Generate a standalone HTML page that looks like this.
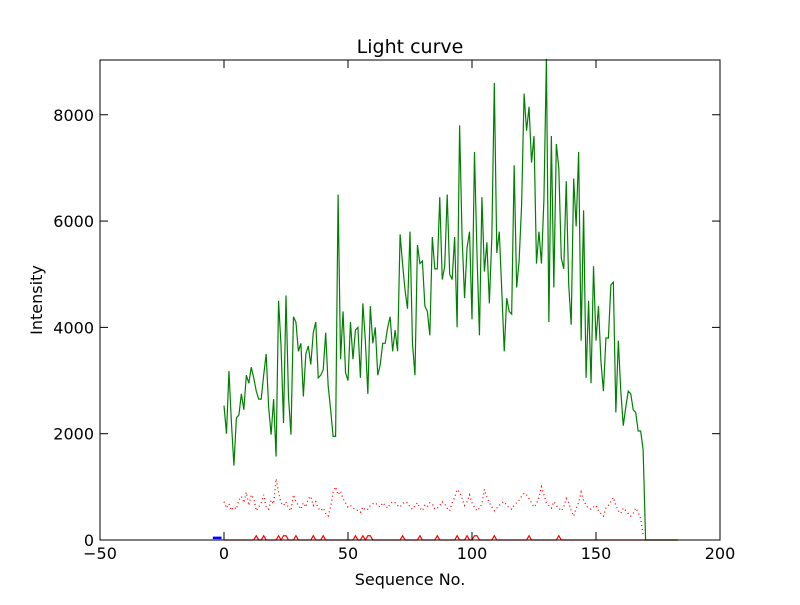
<!DOCTYPE html>
<html><head><meta charset="utf-8"><style>
body{margin:0;background:#fff;}
svg text{font-family:"DejaVu Sans","Liberation Sans",sans-serif;}
</style></head><body>
<svg id="chart" width="800" height="600" xmlns="http://www.w3.org/2000/svg">
<rect width="800" height="600" fill="#fff"/>
<g id="marks"></g>
<g id="axes"></g>
</svg>
<script>
const green=[2530,2000,3180,2200,1400,2300,2350,2750,2450,3100,2950,3250,3050,2800,2650,2650,3100,3500,2500,1980,2650,1570,4500,3650,2200,4600,2700,1980,4200,4100,3550,3700,2700,3500,3650,3300,3900,4100,3050,3100,3200,3900,2900,2450,1950,1950,6500,3400,4300,3150,3000,4100,3400,3950,4000,3050,4450,3750,2750,4400,3700,4000,3100,3300,3700,3700,4000,4200,3550,3950,3550,5750,5200,4700,4350,5800,3700,3100,5550,5200,5250,4400,4300,3850,5700,5100,5100,6450,4900,5150,6500,5000,4900,5700,4000,7800,5700,4550,5500,5800,4150,7300,5400,3850,6450,5050,5600,4450,5700,8600,5400,5800,4700,3550,4550,4300,4250,7050,4750,5250,6300,8400,7700,8150,7100,7600,5200,5800,5200,6400,9050,4100,7600,4750,7450,7000,5300,5100,6750,4800,4050,6800,5900,7300,3750,6200,3050,4500,2950,5150,3750,4400,3350,2800,3800,3800,4800,4850,2400,3750,2800,2150,2500,2800,2750,2450,2400,2050,2050,1700,0,0,0,0,0,0,0,0,0,0,0,0,0,0];
const reddot=[720,600,680,560,620,580,750,820,700,900,650,850,780,550,620,700,850,620,580,750,680,1150,900,700,650,720,600,550,850,720,650,580,700,620,780,820,650,720,600,550,600,500,450,620,900,1000,850,920,780,700,620,650,600,580,550,520,620,560,580,650,680,700,650,620,700,650,600,680,720,700,650,620,680,720,700,620,580,650,700,600,550,650,620,700,680,580,600,650,720,680,600,550,700,800,950,900,780,650,720,850,700,620,550,600,680,950,800,700,620,550,600,650,700,720,650,600,580,650,700,750,820,880,850,780,700,620,680,800,1000,850,700,650,600,720,650,600,550,620,780,700,550,450,600,700,900,750,650,600,580,620,650,550,500,450,600,650,720,800,650,550,500,600,550,500,450,500,600,520,400,100];
const redSpikeIdx=[13,16,22,24,25,29,36,40,53,56,58,59,72,79,86,94,98,101,102,109,123,135];
const blueX=[-4.5,-1];
const blueY=[40,40];
const xTicks=[-50,0,50,100,150,200];
const yTicks=[0,2000,4000,6000,8000];
const X0=100,X1=720,Y0=540,Y1=60,XMIN=-50,XMAX=200,YMAX=9030;
const sx=v=>X0+(v-XMIN)*(X1-X0)/(XMAX-XMIN);
const sy=v=>Y0-v*(Y0-Y1)/YMAX;
const NS="http://www.w3.org/2000/svg";
const marks=document.getElementById('marks'),axes=document.getElementById('axes');
function mk(tag,attrs,parent){const e=document.createElementNS(NS,tag);for(const k in attrs)e.setAttribute(k,attrs[k]);parent.appendChild(e);return e;}
const redVals=[];for(let i=0;i<184;i++)redVals.push(redSpikeIdx.includes(i)?80:0);
let p=mk('polyline',{points:redVals.map((v,i)=>sx(i)+','+sy(v)).join(' '),fill:'none',stroke:'#ff0000','stroke-width':1.2},marks);


p=mk('polyline',{points:reddot.map((v,i)=>sx(i)+','+sy(v)).join(' '),fill:'none',stroke:'#ff0000','stroke-width':1.3,'stroke-dasharray':'1,3'},marks);


p=mk('polyline',{points:green.map((v,i)=>sx(i)+','+sy(v)).join(' '),fill:'none',stroke:'#008000','stroke-width':1.2},marks);


p=mk('polyline',{points:blueX.map((v,i)=>sx(v)+','+sy(blueY[i])).join(' '),fill:'none',stroke:'#0000ff','stroke-width':2.5},marks);


let f=mk('rect',{x:X0,y:Y1,width:X1-X0,height:Y0-Y1,fill:'none',stroke:'#000','stroke-width':1},axes);


const lab=v=>v<0?'\u2212'+(-v):String(v);
xTicks.forEach(t=>{const x=sx(t);
 mk('line',{x1:x,y1:Y0,x2:x,y2:Y0-8,stroke:'#000'},axes);
 mk('line',{x1:x,y1:Y1,x2:x,y2:Y1+8,stroke:'#000'},axes);
 const tx=mk('text',{x:x,y:Y0+19,'font-size':16,'text-anchor':'middle'},axes);tx.textContent=lab(t);
 
 
});
yTicks.forEach(t=>{const y=sy(t);
 mk('line',{x1:X0,y1:y,x2:X0+8,y2:y,stroke:'#000'},axes);
 mk('line',{x1:X1,y1:y,x2:X1-8,y2:y,stroke:'#000'},axes);
 const tx=mk('text',{x:X0-6,y:y+6,'font-size':16,'text-anchor':'end'},axes);tx.textContent=lab(t);
 
 
});
let t=mk('text',{x:410,y:53,'font-size':19,'text-anchor':'middle'},axes);t.textContent='Light curve';


t=mk('text',{x:410,y:585,'font-size':16,'text-anchor':'middle'},axes);t.textContent='Sequence No.';


t=mk('text',{x:42,y:300,'font-size':16,'text-anchor':'middle',transform:'rotate(-90 42 300)'},axes);t.textContent='Intensity';


</script>
</body></html>
